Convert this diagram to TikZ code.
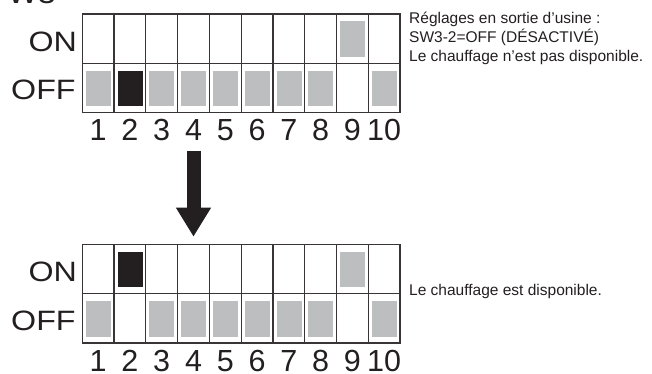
\documentclass[tikz,border=0pt]{standalone}
\usepackage{fontspec}
\setmainfont{Liberation Sans}
\usetikzlibrary{arrows.meta}
\definecolor{swgray}{HTML}{BCBEC0}
\definecolor{ink}{HTML}{231F20}
\newcommand\dipframe[1]{% #1 = top y
  \draw[gridline] (82.3,#1) rectangle (400,{#1+98.6});
  \draw[gridline] (82.3,{#1+49.3}) -- (400,{#1+49.3});
  \foreach \i in {1,...,9} \draw[gridline] ({82.3+\i*31.77},#1) -- ({82.3+\i*31.77},{#1+98.6});
}
\newcommand\dipcell[3]{% #1 col, #2 row top y, #3 colour
  \fill[#3] ({82.3+(#1-1)*31.77+3.6},{#2+7.3}) rectangle ({82.3+(#1-1)*31.77+28.6},{#2+42.8});
}
\begin{document}
\begin{tikzpicture}[x=1pt,y=-1pt,
  gridline/.style={draw=ink!90, line width=1.2pt},
  biglabel/.style={inner sep=0pt, text=ink, font=\fontsize{28}{28}\selectfont},
  digit/.style={inner sep=0pt, anchor=base, text=ink, font=\fontsize{30.5}{30.5}\selectfont},
  note/.style={inner sep=0pt, anchor=base west, align=left, text=ink, font=\fontsize{15.5}{19}\selectfont}]
\useasboundingbox (0,0) rectangle (652,373);
\begin{scope}
\clip (6,0) rectangle (652,373);
\node[biglabel, anchor=base east] (title) at (56,3.5) {\scalebox{1.15}[1]{SW3}};
\end{scope}
% top switch block
\foreach \c in {1,3,4,5,6,7,8,10} {\dipcell{\c}{63.3}{swgray}}
\dipcell{2}{63.3}{ink}
\dipcell{9}{14}{swgray}
\dipframe{14}
\node[biglabel, anchor=base east] (on1) at (77,51.7) {\scalebox{1.15}[1]{ON}};
\node[biglabel, anchor=base east] (off1) at (75.8,99.3) {\scalebox{1.15}[1]{OFF}};
\foreach \i in {1,...,10} \node[digit] (n1-\i) at ({82.3+(\i-0.5)*31.77},140.7) {\i};
\node[note] (txt1) at (409,61.5) {Réglages en sortie d’usine :\\SW3-2=OFF (DÉSACTIVÉ)\\Le chauffage n’est pas disponible.};
% arrow
\coordinate (a1) at (193.5,150.7);
\coordinate (a2) at (193.5,236.7);
\draw[ink, line width=14pt, -{Triangle[length=29pt,width=33pt]}] (a1) -- (a2);
% bottom switch block
\foreach \c in {1,3,4,5,6,7,8,10} {\dipcell{\c}{294}{swgray}}
\dipcell{2}{244.3}{ink}
\dipcell{9}{244.3}{swgray}
\dipframe{244.3}
\node[biglabel, anchor=base east] (on2) at (77,281.7) {\scalebox{1.15}[1]{ON}};
\node[biglabel, anchor=base east] (off2) at (75.8,330) {\scalebox{1.15}[1]{OFF}};
\foreach \i in {1,...,10} \node[digit] (n2-\i) at ({82.3+(\i-0.5)*31.77},371.7) {\i};
\node[note] (txt2) at (409,295) {Le chauffage est disponible.};
\end{tikzpicture}
\end{document}
